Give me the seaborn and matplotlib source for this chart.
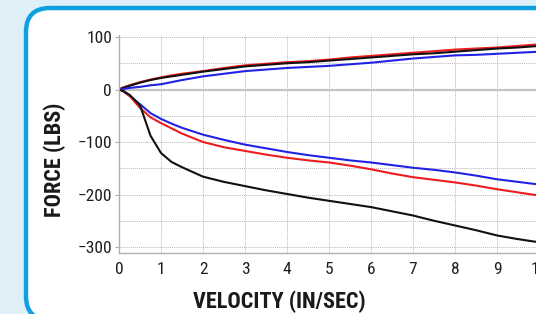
"""
Damper force vs velocity chart (compression above zero, rebound below).
"""

import matplotlib
matplotlib.use("Agg")
import matplotlib.pyplot as plt
from matplotlib.patches import FancyBboxPatch
import seaborn as sns
import pandas as pd

velocity = [0, 0.1, 0.25, 0.5, 0.75, 1, 1.25, 1.5, 2, 2.5, 3, 3.5, 4,
            4.5, 5, 5.5, 6, 6.5, 7, 7.5, 8, 8.5, 9, 9.5, 10]

comp_red = [0, 4, 8, 14, 19, 23, 27, 30, 35, 41, 46, 49, 52,
            54, 57, 61, 64, 67, 70, 73, 76, 78, 80, 83, 86]
comp_black = [0, 3, 7, 13, 18, 22, 25, 28, 34, 39, 44, 47, 50,
              52, 55, 58, 61, 64, 67, 69, 72, 75, 78, 80, 83]
comp_blue = [0, 1, 3, 5, 8, 10, 14, 18, 25, 30, 35, 38, 41,
             43, 45, 48, 51, 55, 59, 62, 65, 66, 68, 70, 72]

reb_blue = [0, -3, -12, -28, -45, -56, -65, -73, -86, -96, -105, -112, -119,
            -125, -130, -135, -139, -144, -149, -153, -158, -164, -171, -176, -181]
reb_red = [0, -3, -12, -35, -53, -64, -74, -84, -100, -110, -117, -124, -130,
           -135, -139, -145, -152, -160, -167, -172, -177, -183, -190, -196, -202]
reb_black = [0, -3, -10, -30, -88, -121, -138, -148, -166, -176, -184, -192, -199,
             -206, -212, -218, -224, -232, -240, -250, -259, -268, -278, -285, -291]

curves = {
    "comp_red": comp_red, "comp_black": comp_black, "comp_blue": comp_blue,
    "reb_blue": reb_blue, "reb_red": reb_red, "reb_black": reb_black,
}
palette = {
    "comp_red": "#ee1c1c", "comp_black": "#111111", "comp_blue": "#2222e6",
    "reb_blue": "#2222e6", "reb_red": "#ee1c1c", "reb_black": "#111111",
}

df = pd.concat(
    [pd.DataFrame({"velocity": velocity, "force": v, "curve": k}) for k, v in curves.items()],
    ignore_index=True,
)

sns.set_theme(style="white")
plt.rcParams["font.family"] = ["Roboto Condensed", "Archivo Narrow", "Liberation Sans Narrow",
                               "Arial Narrow", "Sofia Sans Condensed", "DejaVu Sans"]

W, H = 536, 314
fig = plt.figure(figsize=(W / 100, H / 100), dpi=100)
fig.patch.set_facecolor("#e0f0f9")

# rounded white panel with blue border (pixel coords)
box = FancyBboxPatch((26, -6), 560, 312, boxstyle="round,pad=0,rounding_size=24",
                     transform=None, facecolor="white", edgecolor="#0fa0e0",
                     linewidth=3.2, zorder=-5)
fig.add_artist(box)

ax = fig.add_axes([119 / W, (H - 253.3) / H, 420 / W, 218.4 / H])
ax.set_facecolor("white")

# grid every 1 on x, every 50 on y
for x in range(1, 11):
    ax.axvline(x, color="#b8b8b8", linestyle=(0, (1, 1)), linewidth=0.7, zorder=0)
for y in range(-300, 101, 50):
    if y != 0:
        ax.axhline(y, color="#b8b8b8", linestyle=(0, (1, 1)), linewidth=0.7, zorder=0)
ax.axhline(0, color="#c4c4c4", linewidth=1.6, zorder=0)

sns.lineplot(data=df, x="velocity", y="force", hue="curve", palette=palette,
             sort=False, estimator=None, linewidth=1.5, legend=False, ax=ax)

ax.set_xlim(0, 10)
ax.set_ylim(-312, 104)
ax.set_xticks(range(0, 11))
ax.set_yticks([100, 0, -100, -200, -300])
ax.set_xlabel("")
ax.set_ylabel("")
for s in ["top", "right"]:
    ax.spines[s].set_visible(False)
for s in ["left", "bottom"]:
    ax.spines[s].set_color("#b0b0b0")
    ax.spines[s].set_linewidth(1.0)
ax.tick_params(axis="y", length=3, width=0.8, color="#b0b0b0", pad=2, labelsize=12.5,
               labelcolor="#1e1e1e", left=True)
ax.tick_params(axis="x", length=0, pad=6, labelsize=12.5, labelcolor="#1e1e1e")

fig.text(279 / W, 1 - 302 / H, "VELOCITY (IN/SEC)", ha="center", va="center",
         fontsize=16, fontweight="heavy", color="#1a1a1a")
fig.text(55 / W, 1 - 160 / H, "FORCE (LBS)", ha="center", va="center", rotation=90,
         fontsize=16, fontweight="heavy", color="#1a1a1a")

fig.savefig("out.png", dpi=100)
plt.close(fig)
